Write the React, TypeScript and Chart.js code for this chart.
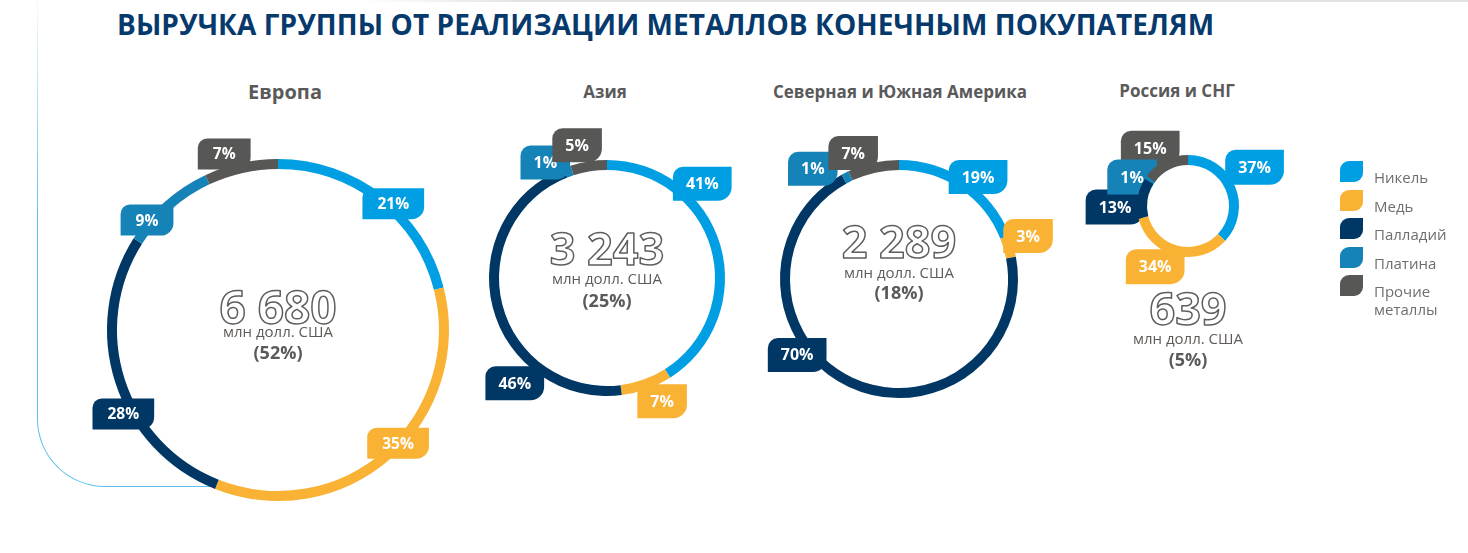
import React, { useEffect, useRef } from "react";
import { Chart, registerables } from "chart.js";

Chart.register(...registerables);

// ---------------- data ----------------
const titleText = "ВЫРУЧКА ГРУППЫ ОТ РЕАЛИЗАЦИИ МЕТАЛЛОВ КОНЕЧНЫМ ПОКУПАТЕЛЯМ";
const metals = ["Никель", "Медь", "Палладий", "Платина", "Прочие металлы"];
const regionNames = ["Европа", "Азия", "Северная и Южная Америка", "Россия и СНГ"];
const regionRevenue = [6680, 3243, 2289, 639]; // млн долл. США
const regionShare = [52, 25, 18, 5]; // % of total
const europeShares = [21, 35, 28, 9, 7];
const asiaShares = [41, 7, 46, 1, 5];
const americasShares = [19, 3, 70, 1, 7];
const russiaShares = [37, 34, 13, 1, 15];
const regionValues = [europeShares, asiaShares, americasShares, russiaShares];
const unitLabel = "млн долл. США";

// ---------------- styles ----------------
const metalColors = ["#009FE3", "#F9B233", "#003764", "#1683B8", "#575756"];
const FONT = '"Open Sans", "DejaVu Sans", sans-serif';
const GREY = "#5a5a5a";

// ---------------- layout ----------------
type Layout = {
  cx: number; cy: number; r: number; ring: number; half: number;
  titleX: number; titleBase: number; titleSize: number;
  badgeH: number; badgeFont: number; badgePad: number;
  labelShift: number[]; labelDist: number[]; order: number[]; under: boolean;
  numSize: number; numY: number; unitY: number; shareY: number;
};

const layouts: Layout[] = [
  {
    cx: 278, cy: 330, r: 171, ring: 10, half: 215,
    titleX: 285, titleBase: 100, titleSize: 20,
    badgeH: 31, badgeFont: 15.5, badgePad: 15,
    labelShift: [4.6, -5.3, -10.5, -8.6, -4.4], labelDist: [171, 165, 176, 171, 184],
    order: [0, 1, 2, 3, 4], under: false,
    numSize: 46, numY: -6, unitY: 7, shareY: 29,
  },
  {
    cx: 607, cy: 278, r: 118, ring: 10, half: 165,
    titleX: 605, titleBase: 98, titleSize: 17,
    badgeH: 34, badgeFont: 16, badgePad: 13,
    labelShift: [-28.5, -4.3, -34.4, -8.3, -3.7], labelDist: [134, 135, 140, 131, 136],
    order: [0, 1, 2, 3, 4], under: false,
    numSize: 45, numY: -13, unitY: 6, shareY: 29,
  },
  {
    cx: 899, cy: 279, r: 119, ring: 10, half: 165,
    titleX: 900, titleBase: 98, titleSize: 17,
    badgeH: 34, badgeFont: 16, badgePad: 13,
    labelShift: [3.6, -2.2, 28.1, -11, -7.4], labelDist: [129, 136, 127, 140, 134],
    order: [0, 1, 2, 3, 4], under: false,
    numSize: 45, numY: -21, unitY: -1, shareY: 20,
  },
  {
    cx: 1188, cy: 206, r: 51, ring: 10, half: 175,
    titleX: 1177, titleBase: 97, titleSize: 17,
    badgeH: 35, badgeFont: 16, badgePad: 13,
    labelShift: [-6.8, 14, -9.8, -6.8, -6.2], labelDist: [77, 69, 73, 63, 69],
    order: [0, 1, 2, 4, 3], under: true,
    numSize: 45, numY: 119, unitY: 138, shareY: 160,
  },
];

function fmt(n: number) {
  return String(n).replace(/\B(?=(\d{3})+(?!\d))/g, " ");
}

function leafPath(ctx: CanvasRenderingContext2D, x: number, y: number, w: number, h: number, r1: number, r2: number) {
  ctx.beginPath();
  ctx.moveTo(x + r1, y);
  ctx.lineTo(x + w, y);
  ctx.lineTo(x + w, y + h - r2);
  ctx.arcTo(x + w, y + h, x + w - r2, y + h, r2);
  ctx.lineTo(x, y + h);
  ctx.lineTo(x, y + r1);
  ctx.arcTo(x, y, x + r1, y, r1);
  ctx.closePath();
}

function makePlugin(idx: number) {
  const L = layouts[idx];
  const drawBadges = (chart: any) => {
    const meta = chart.getDatasetMeta(0);
    const ctx: CanvasRenderingContext2D = chart.ctx;
    const values = chart.data.datasets[0].data as number[];
    ctx.save();
    ctx.font = `700 ${L.badgeFont}px ${FONT}`;
    ctx.textAlign = "center";
    ctx.textBaseline = "middle";
    for (const i of L.order) {
      const arc: any = meta.data[i];
      if (!arc) continue;
      const a = (arc.startAngle + arc.endAngle) / 2 + (L.labelShift[i] * Math.PI) / 180;
      const d = L.labelDist[i];
      const bx = arc.x + d * Math.cos(a);
      const by = arc.y + d * Math.sin(a);
      const text = `${values[i]}%`;
      const tw = ctx.measureText(text).width;
      const w = tw + L.badgePad * 2;
      const h = L.badgeH;
      leafPath(ctx, bx - w / 2, by - h / 2, w, h, h * 0.3, h * 0.4);
      ctx.fillStyle = metalColors[i];
      ctx.fill();
      ctx.fillStyle = "#ffffff";
      ctx.fillText(text, bx, by + 1);
    }
    if (L.under) {
      const arc: any = meta.data[0];
      ctx.beginPath();
      ctx.arc(arc.x, arc.y, arc.innerRadius, 0, Math.PI * 2);
      ctx.fillStyle = "#ffffff";
      ctx.fill();
    }
    ctx.restore();
  };
  const drawCenter = (chart: any) => {
    const arc: any = chart.getDatasetMeta(0).data[0];
    if (!arc) return;
    const ctx: CanvasRenderingContext2D = chart.ctx;
    const x = arc.x, y = arc.y;
    ctx.save();
    ctx.textAlign = "center";
    ctx.textBaseline = "alphabetic";
    ctx.font = `700 ${L.numSize}px ${FONT}`;
    ctx.lineJoin = "round";
    ctx.lineWidth = 1.5;
    ctx.strokeStyle = "#5e5e5e";
    ctx.strokeText(fmt(regionRevenue[idx]), x, y + L.numY);
    ctx.font = `400 15px ${FONT}`;
    ctx.fillStyle = "#5f5b58";
    ctx.fillText(unitLabel, x, y + L.unitY);
    ctx.font = `700 18px ${FONT}`;
    ctx.fillStyle = GREY;
    ctx.fillText(`(${regionShare[idx]}%)`, x, y + L.shareY);
    ctx.restore();
  };
  return {
    id: "regionDecor" + idx,
    beforeDatasetsDraw(chart: any) {
      if (L.under) drawBadges(chart);
    },
    afterDatasetsDraw(chart: any) {
      if (!L.under) drawBadges(chart);
      drawCenter(chart);
    },
  };
}

export default function App() {
  const refs = useRef<(HTMLCanvasElement | null)[]>([]);

  useEffect(() => {
    const charts = layouts.map((L, idx) => {
      const canvas = refs.current[idx] as HTMLCanvasElement;
      return new Chart(canvas, {
        type: "doughnut",
        data: {
          labels: metals,
          datasets: [
            {
              data: regionValues[idx],
              backgroundColor: metalColors,
              borderWidth: 0,
              hoverOffset: 0,
            },
          ],
        },
        options: {
          animation: false,
          responsive: false,
          maintainAspectRatio: false,
          events: [],
          radius: L.r,
          cutout: `${((L.r - L.ring) / L.r) * 100}%`,
          layout: { padding: 0 },
          plugins: {
            legend: { display: false },
            tooltip: { enabled: false },
            title: { display: false },
          },
        } as any,
        plugins: [makePlugin(idx)],
      });
    });
    return () => charts.forEach((c) => c.destroy());
  }, []);

  const legendTop = 161;
  const legendStep = 28.5;

  return (
    <div
      style={{
        position: "fixed", left: 0, top: 0, width: 1468, height: 553,
        background: "#ffffff", overflow: "hidden", fontFamily: FONT,
      }}
    >
      {/* faint top edge */}
      <div
        style={{
          position: "absolute", left: 360, top: 0, width: 1108, height: 2,
          background: "linear-gradient(to right, rgba(225,225,225,0), #e2e2e2 15%, #e2e2e2)",
        }}
      />
      {/* decorative frame */}
      <div
        style={{
          position: "absolute", left: 37, top: -2, width: 190, height: 489,
          borderLeft: "1.5px solid #5cc0ec", borderBottom: "1.5px solid #5cc0ec",
          borderBottomLeftRadius: 68, boxSizing: "border-box",
        }}
      />
      <div
        style={{
          position: "absolute", left: 30, top: 0, width: 20, height: 220,
          background: "linear-gradient(to bottom, rgba(255,255,255,0.95), rgba(255,255,255,0))",
        }}
      />
      {/* main title */}
      <div
        style={{
          position: "absolute", left: 117, top: 35 - 0.888 * 28, fontSize: 28, lineHeight: "28px",
          fontWeight: 700, color: "#063a6c", whiteSpace: "nowrap", letterSpacing: 0.08,
        }}
      >
        {titleText}
      </div>
      {/* region titles */}
      {layouts.map((L, i) => (
        <div
          key={"t" + i}
          style={{
            position: "absolute", left: L.titleX, top: L.titleBase - 0.888 * L.titleSize,
            transform: "translateX(-50%)", fontSize: L.titleSize, lineHeight: `${L.titleSize}px`,
            fontWeight: 700, color: GREY, whiteSpace: "nowrap",
          }}
        >
          {regionNames[i]}
        </div>
      ))}
      {/* charts */}
      {layouts.map((L, i) => (
        <canvas
          key={"c" + i}
          ref={(el) => { refs.current[i] = el; }}
          width={L.half * 2}
          height={L.half * 2}
          style={{
            position: "absolute", left: L.cx - L.half, top: L.cy - L.half,
            width: L.half * 2, height: L.half * 2, display: "block",
          }}
        />
      ))}
      {/* legend */}
      {metals.map((m, i) => {
        const top = legendTop + i * legendStep;
        return (
          <React.Fragment key={"l" + i}>
            <div
              style={{
                position: "absolute", left: 1340, top, width: 23, height: 21,
                background: metalColors[i], borderRadius: "9px 0 9px 0",
              }}
            />
            <div
              style={{
                position: "absolute", left: 1374, top: top + 22 - 14.8, width: 82,
                fontSize: 15, lineHeight: "18px", color: "#6e6e6e", fontWeight: 400,
              }}
            >
              {m}
            </div>
          </React.Fragment>
        );
      })}
    </div>
  );
}
